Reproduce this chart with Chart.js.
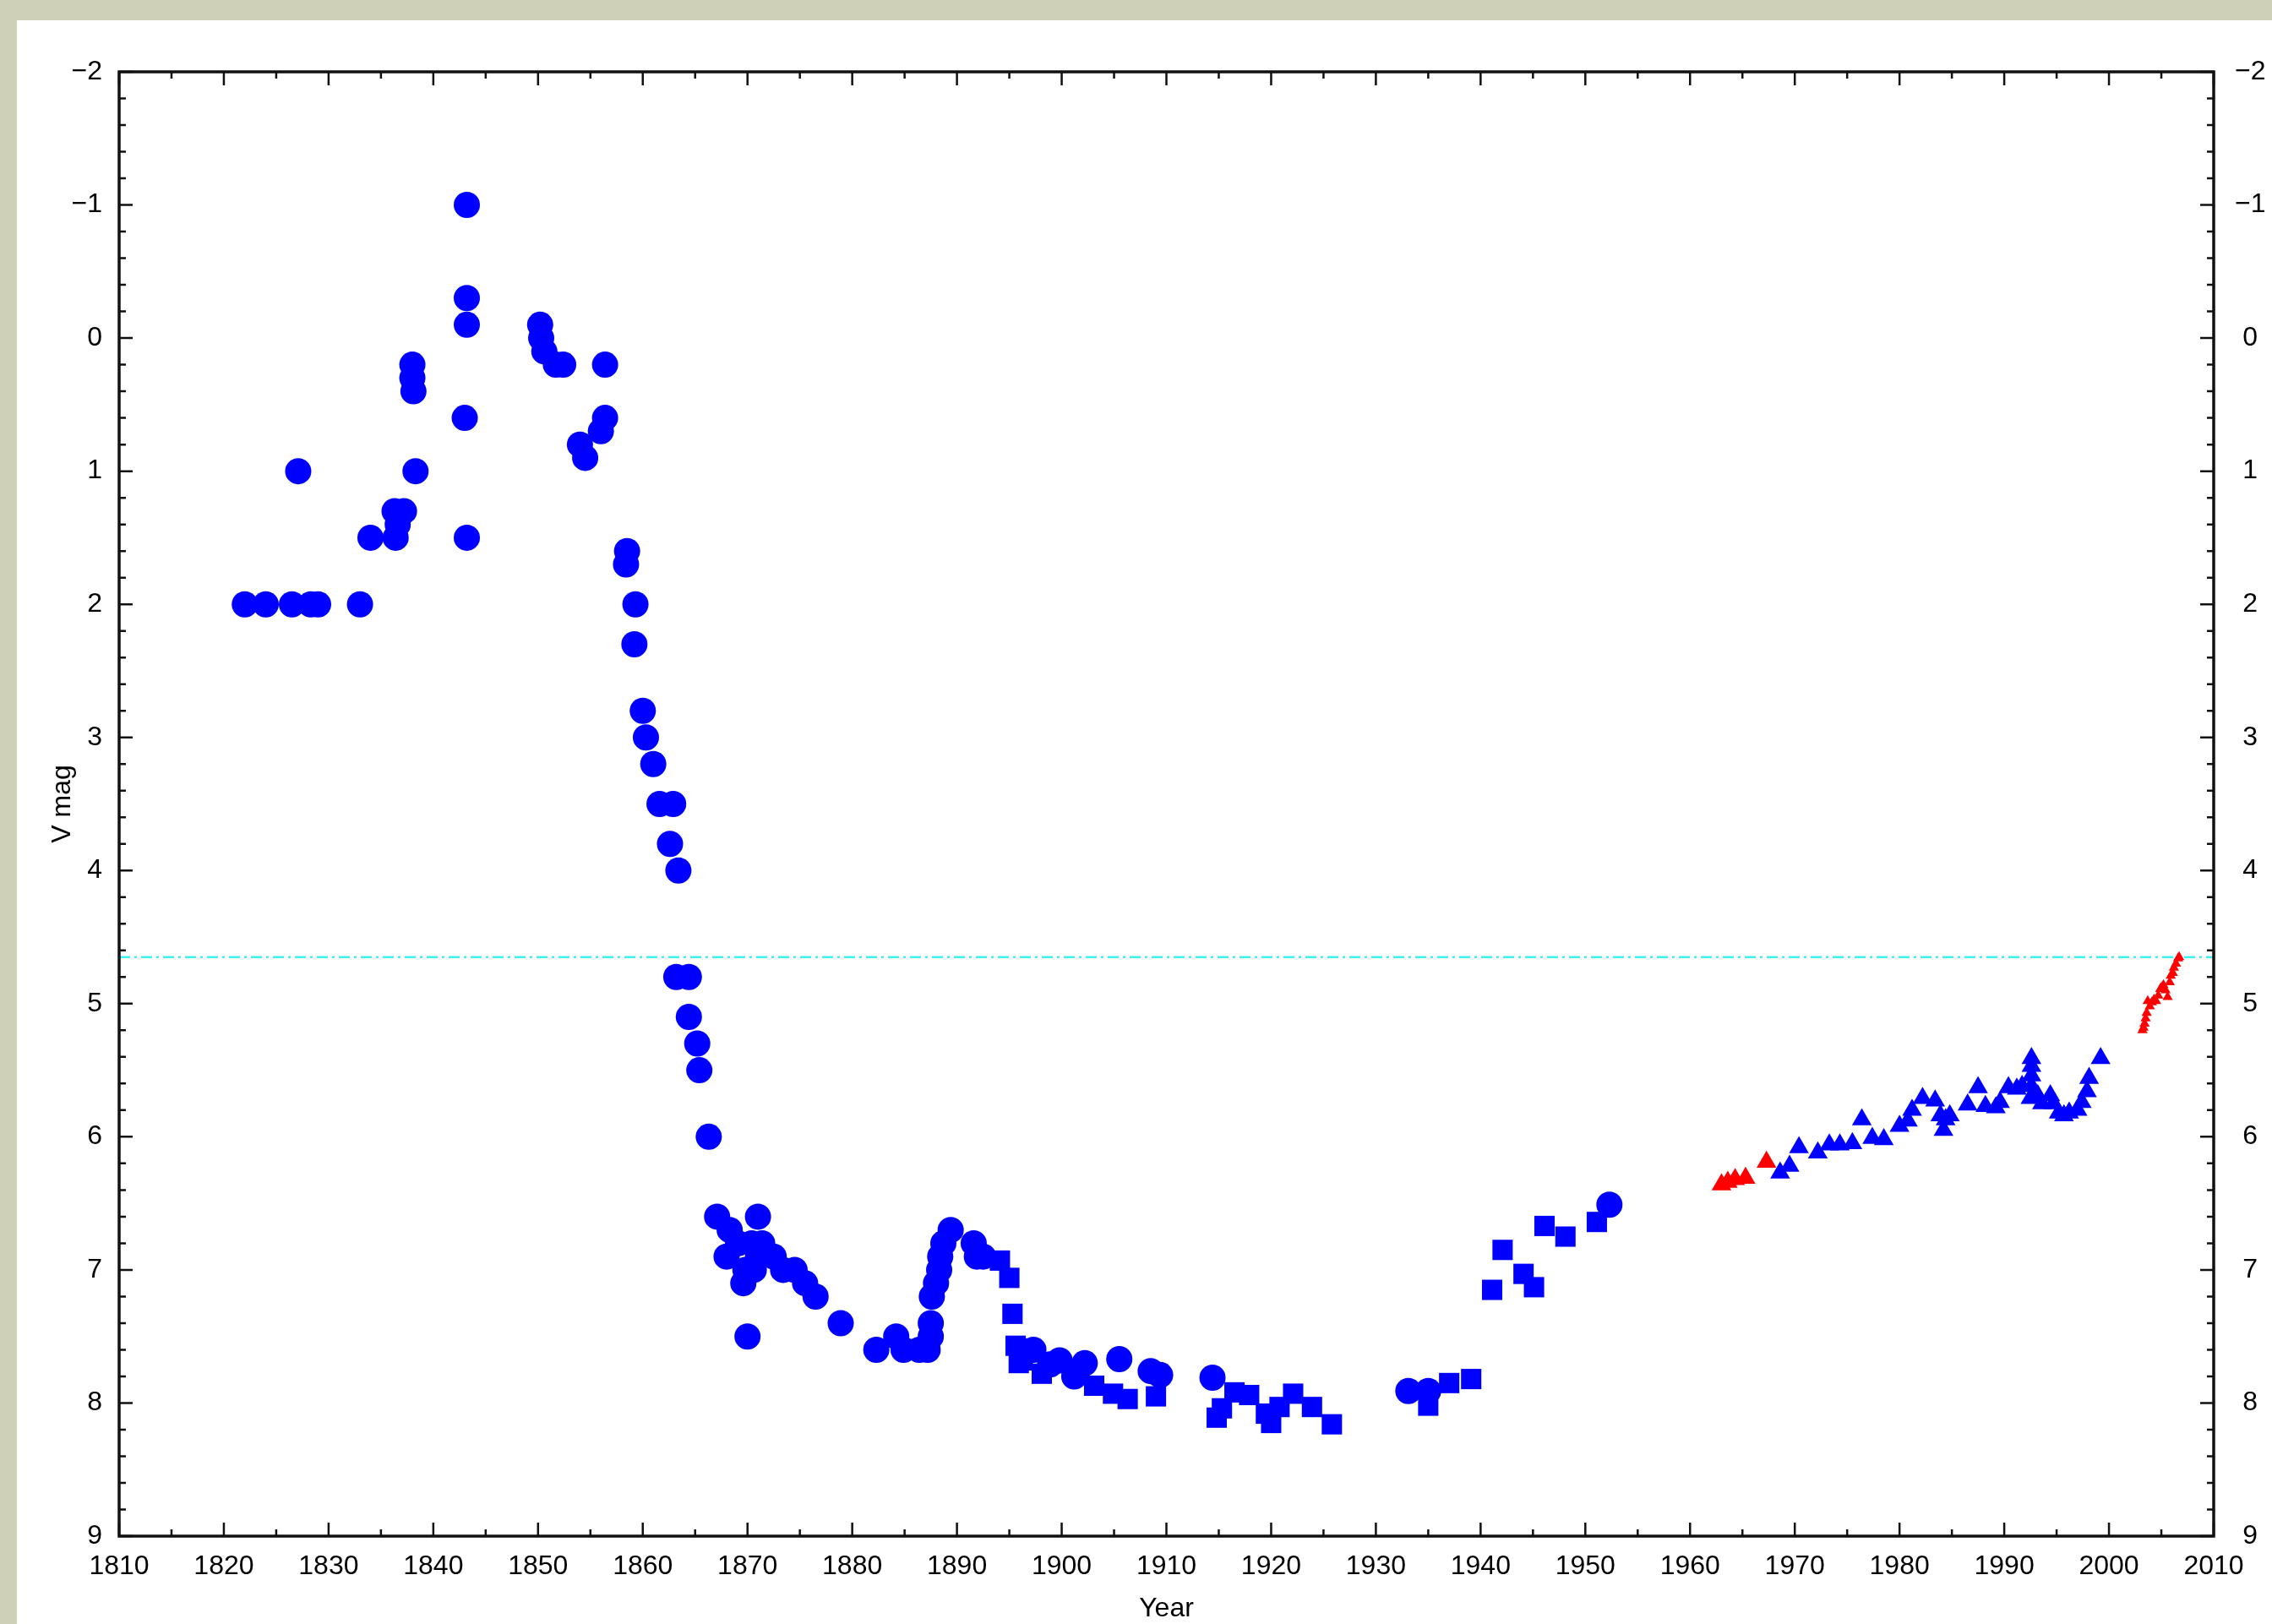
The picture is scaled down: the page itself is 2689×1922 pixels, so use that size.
<!DOCTYPE html>
<html>
<head>
<meta charset="utf-8">
<script src="https://cdn.jsdelivr.net/npm/chart.js@4/dist/chart.umd.min.js"></script>
<style>
  html, body { margin: 0; padding: 0; background: #fff; }
  canvas { display: block; }
</style>
</head>
<body>
<canvas id="lichtkurve" width="2689" height="1922"></canvas>
<script>
// Achsen
const jahrMin = 1810, jahrMax = 2010, jahrSchritt = 10;
const magMin = -2, magMax = 9, magSchritt = 1;
const grenzMag = 4.65;

// Kreise (visuelle Schaetzungen)
const kreisJahre = [1822.0, 1824.0, 1826.5, 1827.1, 1828.3, 1829.0, 1833.0, 1834.0, 1836.3, 1836.4, 1836.6, 1837.2,
  1838.0, 1838.0, 1838.1, 1838.3, 1843.0, 1843.2, 1843.2, 1843.2, 1843.2, 1850.2, 1850.3, 1850.6, 1851.7, 1852.4,
  1854.0, 1854.5, 1856.0, 1856.4, 1856.4, 1858.4, 1858.5, 1859.2, 1859.3, 1860.0, 1860.3, 1861.0, 1861.6, 1862.6,
  1862.9, 1863.4, 1863.2, 1864.4, 1864.4, 1865.2, 1865.4, 1866.3, 1867.1, 1871.0, 1868.3, 1870.4, 1871.4, 1869.1,
  1868.0, 1871.0, 1872.5, 1869.8, 1870.6, 1869.6, 1873.4, 1874.5, 1875.5, 1876.5, 1870.0, 1878.9, 1882.3, 1884.2,
  1884.9, 1886.4, 1887.2, 1887.5, 1887.5, 1887.6, 1888.0, 1888.3, 1888.4, 1888.7, 1889.4, 1891.6, 1891.9, 1892.5,
  1896.4, 1897.3, 1898.9, 1899.8, 1901.2, 1902.2, 1905.5, 1908.5, 1909.4, 1914.4, 1933.1, 1935.0, 1952.3];
const kreisMag = [2.0, 2.0, 2.0, 1.0, 2.0, 2.0, 2.0, 1.5, 1.3, 1.5, 1.4, 1.3,
  0.2, 0.3, 0.4, 1.0, 0.6, -1.0, -0.3, -0.1, 1.5, -0.1, 0.0, 0.1, 0.2, 0.2,
  0.8, 0.9, 0.7, 0.2, 0.6, 1.7, 1.6, 2.3, 2.0, 2.8, 3.0, 3.2, 3.5, 3.8,
  3.5, 4.0, 4.8, 4.8, 5.1, 5.3, 5.5, 6.0, 6.6, 6.6, 6.7, 6.8, 6.8, 6.8,
  6.9, 6.9, 6.9, 7.0, 7.0, 7.1, 7.0, 7.0, 7.1, 7.2, 7.5, 7.4, 7.6, 7.5,
  7.6, 7.6, 7.6, 7.5, 7.4, 7.2, 7.1, 7.0, 6.9, 6.8, 6.7, 6.8, 6.9, 6.9,
  7.61, 7.6, 7.71, 7.68, 7.8, 7.7, 7.67, 7.76, 7.79, 7.81, 7.91, 7.91, 6.51];

// Quadrate
const quadratJahre = [1894.1, 1895.0, 1895.3, 1895.6, 1895.9, 1896.3, 1898.1, 1903.1, 1904.9, 1906.3, 1909.0, 1914.8,
  1915.3, 1916.5, 1917.9, 1919.5, 1920.0, 1920.8, 1922.1, 1923.9, 1925.8, 1935.0, 1937.0, 1939.1, 1941.1, 1942.1,
  1944.1, 1945.1, 1946.1, 1948.1, 1951.1];
const quadratMag = [6.93, 7.06, 7.33, 7.57, 7.70, 7.68, 7.78, 7.87, 7.93, 7.97, 7.95, 8.11,
  8.04, 7.92, 7.94, 8.08, 8.15, 8.03, 7.93, 8.03, 8.16, 8.02, 7.85, 7.82, 7.15, 6.85,
  7.03, 7.13, 6.67, 6.75, 6.64];

// Dreiecke blau
const dreieckJahre = [1968.6, 1969.5, 1970.4, 1972.2, 1973.3, 1974.3, 1975.5, 1976.4, 1977.4, 1978.5, 1980.0, 1980.8,
  1981.2, 1982.2, 1983.4, 1983.9, 1984.2, 1984.4, 1984.8, 1986.5, 1987.5, 1988.2, 1989.2, 1989.6, 1990.4, 1991.2,
  1991.7, 1992.5, 1992.6, 1992.6, 1992.6, 1992.6, 1993.2, 1993.6, 1994.4, 1994.7, 1995.2, 1995.7, 1996.2, 1997.0,
  1997.4, 1997.9, 1998.1, 1999.2];
const dreieckMag = [6.27, 6.22, 6.08, 6.12, 6.06, 6.06, 6.05, 5.87, 6.01, 6.02, 5.92, 5.88,
  5.80, 5.71, 5.73, 5.84, 5.95, 5.87, 5.84, 5.76, 5.63, 5.77, 5.78, 5.74, 5.63, 5.64,
  5.62, 5.71, 5.41, 5.47, 5.54, 5.62, 5.69, 5.75, 5.69, 5.75, 5.82, 5.84, 5.82, 5.80,
  5.74, 5.66, 5.56, 5.41];

// Dreiecke rot
const rotJahre = [1963.0, 1963.6, 1964.3, 1965.3, 1967.3];
const rotMag = [6.36, 6.34, 6.32, 6.31, 6.19];

// neueste Messungen
const neuJahre = [2003.2, 2003.3, 2003.4, 2003.5, 2003.6, 2003.7, 2003.9, 2004.1, 2004.3, 2004.5, 2004.7, 2004.9,
  2005.0, 2005.2, 2005.4, 2005.6, 2005.8, 2005.9, 2006.1, 2006.2, 2006.4, 2006.6, 2006.7];
const neuMag = [5.20, 5.18, 5.15, 5.11, 5.07, 4.98, 5.02, 4.99, 4.97, 4.98, 4.94, 4.89,
  4.88, 4.86, 4.90, 4.95, 4.84, 4.79, 4.77, 4.73, 4.70, 4.66, 4.65];

function punkte(jahre, mags) {
    return jahre.map((j, i) => ({ x: j, y: mags[i] }));
}

function minusZeichen(v) {
    return v < 0 ? '\u2212' + Math.abs(v) : String(v);
}

const schrift = { family: "'Liberation Sans', Arial, Helvetica, sans-serif", size: 32 };
const titelSchrift = { family: "'Liberation Sans', Arial, Helvetica, sans-serif", size: 32, lineHeight: 1.1 };

const hintergrund = {
    id: 'hintergrund',
    beforeDraw(chart) {
        const ctx = chart.ctx;
        ctx.save();
        ctx.fillStyle = '#cfd0b8';
        ctx.fillRect(0, 0, chart.width, chart.height);
        ctx.fillStyle = '#ffffff';
        ctx.fillRect(20, 24, chart.width - 20, chart.height - 24);
        ctx.restore();
    }
};

const rahmen = {
    id: 'rahmen',
    afterDatasetsDraw(chart) {
        const { ctx, chartArea: a, scales: { x, y } } = chart;
        ctx.save();
        ctx.strokeStyle = '#111';
        ctx.lineWidth = 2.5;
        ctx.beginPath();
        for (let v = jahrMin; v <= jahrMax; v += 5) {
            const px = x.getPixelForValue(v);
            const len = (v - jahrMin) % 10 === 0 ? 16 : 8;
            ctx.moveTo(px, a.bottom); ctx.lineTo(px, a.bottom - len);
            ctx.moveTo(px, a.top); ctx.lineTo(px, a.top + len);
        }
        const n = Math.round((magMax - magMin) / 0.2);
        for (let i = 0; i <= n; i++) {
            const py = y.getPixelForValue(magMin + i * 0.2);
            const len = i % 5 === 0 ? 16 : 8;
            ctx.moveTo(a.left, py); ctx.lineTo(a.left + len, py);
            ctx.moveTo(a.right, py); ctx.lineTo(a.right - len, py);
        }
        ctx.stroke();
        ctx.lineWidth = 3.5;
        ctx.strokeRect(a.left, a.top, a.right - a.left, a.bottom - a.top);
        ctx.restore();
    }
};

const yAchse = (pos) => ({
    type: 'linear',
    position: pos,
    reverse: true,
    min: magMin,
    max: magMax,
    grid: { display: false, drawTicks: false },
    border: { display: false },
    ticks: {
        stepSize: magSchritt,
        color: '#000',
        font: schrift,
        padding: pos === 'left' ? 20 : 25,
        crossAlign: pos === 'left' ? 'near' : 'center',
        callback: minusZeichen
    }
});

const linksAchse = yAchse('left');
linksAchse.title = { display: true, text: 'V mag', color: '#000', font: titelSchrift, padding: { top: 57, bottom: 0 } };
linksAchse.afterFit = s => { s.width = 141; };
const rechtsAchse = yAchse('right');
rechtsAchse.afterFit = s => { s.width = 69; };

new Chart(document.getElementById('lichtkurve'), {
    type: 'scatter',
    data: {
        datasets: [
            {
                type: 'line',
                data: [{ x: jahrMin, y: grenzMag }, { x: jahrMax, y: grenzMag }],
                borderColor: '#3ff0f0',
                borderWidth: 2.5,
                borderDash: [13, 5, 3, 5],
                pointRadius: 0,
                order: 10
            },
            {
                data: punkte(kreisJahre, kreisMag),
                pointStyle: 'circle', pointRadius: 15.5,
                backgroundColor: '#0000ff', borderWidth: 0, order: 1
            },
            {
                data: punkte(quadratJahre, quadratMag),
                pointStyle: 'rect', pointRadius: 17,
                backgroundColor: '#0000ff', borderWidth: 0, order: 1
            },
            {
                data: punkte(dreieckJahre, dreieckMag),
                pointStyle: 'triangle', pointRadius: 13.5,
                backgroundColor: '#0000ff', borderWidth: 0, order: 1
            },
            {
                data: punkte(rotJahre, rotMag),
                pointStyle: 'triangle', pointRadius: 13.5,
                backgroundColor: '#ff0000', borderWidth: 0, order: 1
            },
            {
                data: punkte(neuJahre, neuMag),
                pointStyle: 'triangle', pointRadius: 7,
                backgroundColor: '#ff0000', borderWidth: 0, order: 1
            }
        ]
    },
    options: {
        responsive: false,
        animation: false,
        events: [],
        devicePixelRatio: 1,
        layout: { padding: { left: 0, right: 0, top: 85, bottom: 0 }, autoPadding: false },
        plugins: { legend: { display: false }, tooltip: { enabled: false } },
        scales: {
            x: {
                type: 'linear',
                position: 'bottom',
                min: jahrMin,
                max: jahrMax,
                grid: { display: false, drawTicks: false },
                border: { display: false },
                ticks: { stepSize: jahrSchritt, color: '#000', font: schrift, padding: 17, maxRotation: 0,
                         callback: v => String(v) },
                title: { display: true, text: 'Year', color: '#000', font: titelSchrift, padding: { top: 0, bottom: 0 } },
                afterFit: s => { s.height = 104; }
            },
            y: linksAchse,
            y2: rechtsAchse
        }
    },
    plugins: [hintergrund, rahmen]
});
</script>
</body>
</html>
